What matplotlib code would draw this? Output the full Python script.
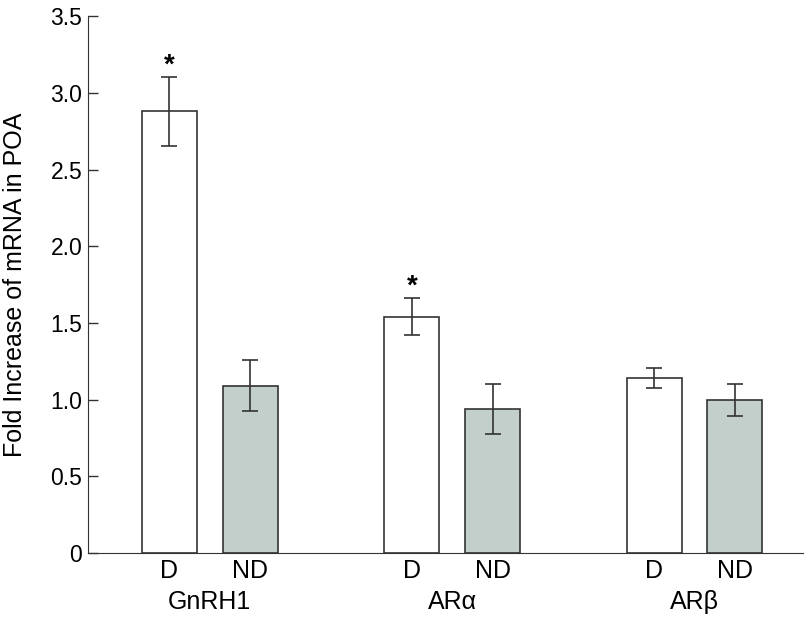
import matplotlib
matplotlib.use("Agg")
import matplotlib.pyplot as plt
from matplotlib.ticker import FuncFormatter

plt.rcParams['font.family'] = ['Liberation Sans', 'DejaVu Sans']

genes = ["GnRH1", "AR\u03b1", "AR\u03b2"]
conditions = ["D", "ND"]
d_means = [2.88, 1.54, 1.14]
d_err = [0.225, 0.12, 0.065]
nd_means = [1.09, 0.94, 1.00]
nd_err = [0.165, 0.165, 0.105]
significant = [True, True, False]

fig = plt.figure(figsize=(8.06, 6.21), dpi=100)
ax = fig.add_axes([0.109, 0.1095, 0.887, 0.8645])

d_pos = [3 * i for i in range(len(genes))]
nd_pos = [3 * i + 1 for i in range(len(genes))]
w = 0.68
edge = "#333333"

ax.bar(d_pos, d_means, w, color="white", edgecolor=edge, linewidth=1.2,
       yerr=d_err, capsize=6, error_kw=dict(ecolor=edge, elinewidth=1.2, capthick=1.2))
ax.bar(nd_pos, nd_means, w, color="#c3cfcb", edgecolor=edge, linewidth=1.2,
       yerr=nd_err, capsize=6, error_kw=dict(ecolor=edge, elinewidth=1.2, capthick=1.2))

# asterisks over the significant D bars
for i in range(len(genes)):
    if significant[i]:
        ax.text(d_pos[i], d_means[i] + d_err[i] + 0.075, "*", ha="center", va="center",
                fontsize=20, fontweight="bold")

ax.set_xlim(-1.01, 7.84)
ax.set_ylim(0, 3.5)
ax.set_yticks([0, 0.5, 1.0, 1.5, 2.0, 2.5, 3.0, 3.5])
ax.yaxis.set_major_formatter(FuncFormatter(lambda v, p: "0" if v == 0 else "%.1f" % v))
ax.tick_params(axis="y", direction="in", length=7, width=1, color=edge, labelsize=16.5, pad=4)

ticks = []
labels = []
for i in range(len(genes)):
    ticks += [d_pos[i], nd_pos[i]]
    labels += conditions
ax.set_xticks(ticks)
ax.set_xticklabels(labels, fontsize=18)
ax.tick_params(axis="x", length=0, pad=4)

for i, g in enumerate(genes):
    ax.text((d_pos[i] + nd_pos[i]) / 2, -0.24, g, ha="center", va="top", fontsize=18)

ax.spines["top"].set_visible(False)
ax.spines["right"].set_visible(False)
ax.spines["left"].set_color(edge)
ax.spines["bottom"].set_color(edge)
ax.set_ylabel("Fold Increase of mRNA in POA", fontsize=18)
ax.yaxis.set_label_coords(-0.085, 0.5)

fig.savefig("out.png", dpi=100)
